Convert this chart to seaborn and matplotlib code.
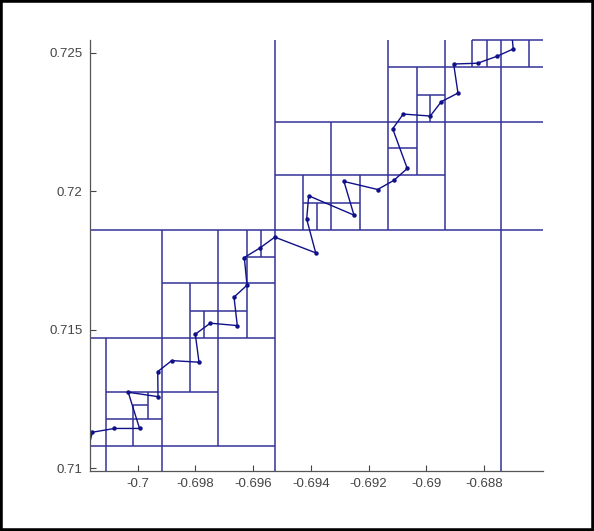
import matplotlib
matplotlib.use("Agg")
import matplotlib.pyplot as plt
import pandas as pd
import seaborn as sns
from matplotlib.patches import Rectangle

# path of points (first and last lie just outside the box and get clipped)
path_x = [-0.701821, -0.701568, -0.700806, -0.699933, -0.700325, -0.699293, -0.699303,
          -0.698818, -0.697873, -0.698001, -0.697481, -0.696546, -0.696660, -0.696210,
          -0.696303, -0.695753, -0.695247, -0.693830, -0.694142, -0.694073, -0.692504,
          -0.692850, -0.691683, -0.691129, -0.690657, -0.691163, -0.690796, -0.689861,
          -0.689480, -0.688901, -0.689050, -0.688219, -0.687561, -0.686986, -0.687083]
path_y = [0.710230, 0.711303, 0.711440, 0.711440, 0.712748, 0.712589, 0.713493,
          0.713890, 0.713833, 0.714845, 0.715242, 0.715155, 0.716182, 0.716615,
          0.717613, 0.717964, 0.718350, 0.717783, 0.719000, 0.719843, 0.719145,
          0.720360, 0.720070, 0.720396, 0.720829, 0.722264, 0.722795, 0.722723,
          0.723240, 0.723554, 0.724602, 0.724631, 0.724877, 0.725145, 0.726203]

XMIN, XMAX = -0.70166, -0.68597
YMIN, YMAX = 0.709915, 0.72547

# cell boundaries: vertical (x, y0, y1) and horizontal (y, x0, x1)
vx  = [-0.695257, -0.687402, -0.701111, -0.699171, -0.697214, -0.698174, -0.696210,
       -0.695732, -0.697685, -0.700152, -0.699639, -0.694263, -0.693771, -0.692310,
       -0.693290, -0.691309, -0.689348, -0.690332, -0.689868, -0.688399, -0.687904,
       -0.686432]
vy0 = [YMIN, YMIN, YMIN, YMIN, 0.710801, 0.712767, 0.714704,
       0.717624, 0.714704, 0.710801, 0.711776, 0.718607, 0.718607, 0.718607,
       0.718607, 0.718607, 0.718607, 0.720580, 0.722517, 0.724480, 0.724480,
       0.724480]
vy1 = [YMAX, YMAX, 0.714704, 0.718607, 0.718607, 0.716684, 0.718607,
       0.718607, 0.715687, 0.712282, 0.712767, 0.720580, 0.719579, 0.720580,
       0.722517, YMAX, YMAX, 0.724480, 0.723478, YMAX, YMAX,
       YMAX]

hy  = [0.718607, 0.710801, 0.714704, 0.716684, 0.717624, 0.715687, 0.712767,
       0.711776, 0.712282, 0.720580, 0.719579, 0.722517, 0.721556, 0.723478,
       0.724480, YMAX]
hx0 = [XMIN, XMIN, XMIN, -0.699171, -0.696210, -0.698174, -0.701111,
       -0.701111, -0.700152, -0.695257, -0.694263, -0.695257, -0.691309, -0.690332,
       -0.691309, -0.688399]
hx1 = [XMAX, -0.695257, -0.695257, -0.695257, -0.695257, -0.696210, -0.697214,
       -0.699171, -0.699639, -0.689348, -0.692310, XMAX, -0.690332, -0.689348,
       XMAX, XMAX]

xticks = [-0.700, -0.698, -0.696, -0.694, -0.692, -0.690, -0.688]
xlabels = ["-0.7", "-0.698", "-0.696", "-0.694", "-0.692", "-0.69", "-0.688"]
yticks = [0.710, 0.715, 0.720, 0.725]
ylabels = ["0.71", "0.715", "0.72", "0.725"]

sns.set_style("white")
plt.rcParams['font.family'] = ['Liberation Sans', 'DejaVu Sans']

fig = plt.figure(figsize=(5.94, 5.31), dpi=100)
ax = fig.add_axes([0.151, 0.1136, 0.7624, 0.8111])

grid_col = "#33339a"
ax.vlines(vx, vy0, vy1, colors=grid_col, linewidth=1.1, clip_on=False)
ax.hlines(hy, hx0, hx1, colors=grid_col, linewidth=1.1, clip_on=False)

df = pd.DataFrame({"x": path_x, "y": path_y})
sns.lineplot(data=df, x="x", y="y", sort=False, estimator=None, ax=ax,
             color="#10108a", linewidth=1.0, marker="o", markersize=3.2,
             markeredgewidth=0)

ax.set_xlim(XMIN, XMAX)
ax.set_ylim(YMIN, YMAX)
ax.set_xticks(xticks)
ax.set_xticklabels(xlabels)
ax.set_yticks(yticks)
ax.set_yticklabels(ylabels)
ax.set_xlabel("")
ax.set_ylabel("")
ax.tick_params(direction="in", length=4, width=0.8, colors="#444444",
               labelsize=9.5, pad=5, bottom=True, left=True)
for s in ["top", "right"]:
    ax.spines[s].set_visible(False)
for s in ["left", "bottom"]:
    ax.spines[s].set_color("#555555")
    ax.spines[s].set_linewidth(0.9)

fig.patches.append(Rectangle((0, 0), 1, 1, transform=fig.transFigure,
                             fill=False, edgecolor="black", linewidth=4))

fig.savefig("out.png", dpi=100)
